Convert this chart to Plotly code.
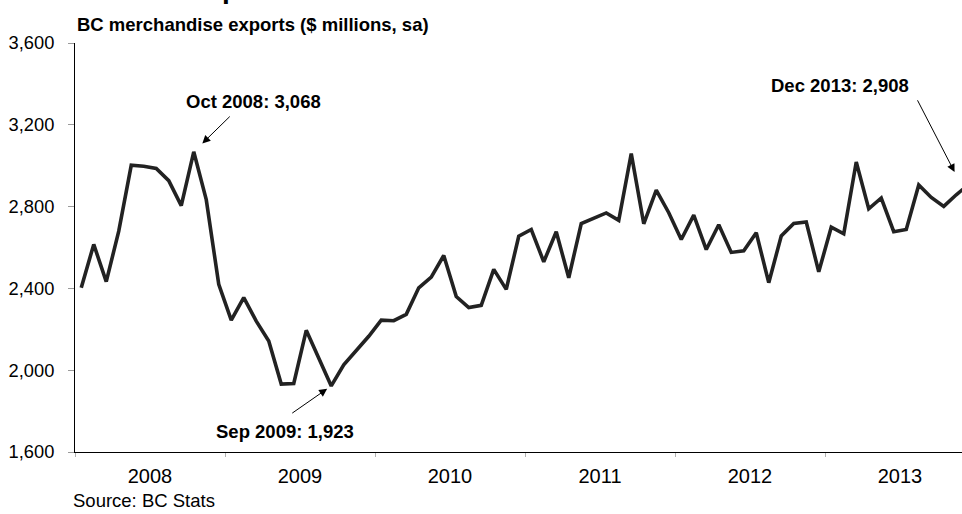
import numpy as np
import plotly.graph_objects as go

# BC merchandise exports, $ millions, seasonally adjusted (monthly, Jan 2008 - Dec 2013)
years = ["2008", "2009", "2010", "2011", "2012", "2013"]
exports_2008 = [2403, 2615, 2433, 2680, 3002, 2997, 2987, 2927, 2805, 3068, 2834, 2420]
exports_2009 = [2245, 2355, 2240, 2143, 1932, 1935, 2195, 2062, 1923, 2026, 2094, 2166]
exports_2010 = [2245, 2242, 2273, 2403, 2455, 2561, 2360, 2306, 2317, 2493, 2395, 2655]
exports_2011 = [2688, 2530, 2677, 2452, 2717, 2745, 2769, 2733, 3059, 2716, 2880, 2770]
exports_2012 = [2639, 2758, 2590, 2711, 2576, 2584, 2672, 2428, 2656, 2717, 2725, 2481]
exports_2013 = [2699, 2667, 3018, 2789, 2842, 2677, 2688, 2906, 2845, 2801, 2858, 2908]
y_ticks = [1600, 2000, 2400, 2800, 3200, 3600]

# Callouts: (month index, label)
callouts = [(9, "Oct 2008: 3,068"), (20, "Sep 2009: 1,923"), (71, "Dec 2013: 2,908")]

exports = exports_2008 + exports_2009 + exports_2010 + exports_2011 + exports_2012 + exports_2013
x = np.arange(len(exports))

FONT = "Arial, Liberation Sans, sans-serif"
W, H = 962, 514
ML, MR, MT, MB = 75, 0, 43, 62
PX_PER_YEAR = 150
plot_w = W - ML - MR
plot_h = H - MT - MB
x0 = -0.5
x1 = x0 + plot_w / PX_PER_YEAR * 12

year_centers = [i * 12 + 5.5 for i in range(len(years))]
year_edges = [i * 12 - 0.5 for i in range(len(years) + 1)]

fig = go.Figure()
fig.add_trace(go.Scatter(
    x=x, y=exports, mode="lines",
    line=dict(color="#222222", width=3.6),
    hoverinfo="y", showlegend=False,
))

def px_to_paper_y(py):
    return (H - MB - py) / plot_h

annotations = []
# chart headline (sits mostly above the visible page)
annotations.append(dict(
    xref="paper", yref="paper", x=(10 - ML) / plot_w, y=px_to_paper_y(-12),
    xanchor="left", yanchor="middle", showarrow=False,
    text="<b>Merchandise exports</b>", font=dict(family=FONT, size=28, color="#000"),
))
# series description
annotations.append(dict(
    xref="paper", yref="paper", x=0, y=px_to_paper_y(24.5),
    xanchor="left", yanchor="middle", showarrow=False,
    text="<b>BC merchandise exports ($ millions, sa)</b>",
    font=dict(family=FONT, size=18.5, color="#000"),
))
# source line
annotations.append(dict(
    xref="paper", yref="paper", x=(71 - ML) / plot_w, y=px_to_paper_y(500),
    xanchor="left", yanchor="middle", showarrow=False,
    text="Source: BC Stats", font=dict(family=FONT, size=18.5, color="#000"),
))

# callout label positions (text centre, in axis units) and arrow tails (pixel offsets)
label_pos = {9: (13.78, 3315), 20: (16.26, 1700), 71: (60.7, 3391)}
arrow_tail = {9: (37.5, -36.7, 12), 20: (-40.5, 28.2, 5), 71: (-52, -85.7, 14)}

for idx, label in callouts:
    lx, ly = label_pos[idx]
    annotations.append(dict(
        xref="x", yref="y", x=lx, y=ly, showarrow=False,
        text="<b>" + label + "</b>", font=dict(family=FONT, size=18.5, color="#000"),
        xanchor="center", yanchor="middle",
    ))
    ax, ay, so = arrow_tail[idx]
    if x0 <= idx <= x1:
        ref = dict(xref="x", x=idx)
    else:
        ref = dict(xref="paper", x=(idx - x0) / (x1 - x0))
    annotations.append(dict(
        **ref, yref="y", y=exports[idx], text="", showarrow=True,
        ax=ax, ay=ay, axref="pixel", ayref="pixel",
        arrowhead=2, arrowsize=1.6, arrowwidth=1, arrowcolor="#000", standoff=so,
    ))

fig.update_layout(
    width=W, height=H,
    margin=dict(l=ML, r=MR, t=MT, b=MB, pad=0),
    paper_bgcolor="white", plot_bgcolor="white",
    font=dict(family=FONT, color="#000"),
    annotations=annotations,
    xaxis=dict(
        range=[x0, x1], showgrid=False, zeroline=False,
        showline=True, linecolor="#000", linewidth=1,
        tickmode="array", tickvals=year_centers, ticktext=years,
        ticks="", tickfont=dict(family=FONT, size=20, color="#000"),
        ticklabelstandoff=6,
        minor=dict(tickmode="array", tickvals=year_edges, ticks="outside",
                   ticklen=4, tickwidth=1, tickcolor="#b0b0b0", showgrid=False),
    ),
    yaxis=dict(
        range=[1600, 3600], showgrid=False, zeroline=False,
        showline=True, linecolor="#000", linewidth=1,
        tickmode="array", tickvals=y_ticks, tickformat=",",
        ticks="outside", ticklen=6, tickwidth=1, tickcolor="#9a9a9a",
        tickfont=dict(family=FONT, size=18.3, color="#000"),
        ticklabelstandoff=10,
    ),
)

fig.write_html("out.html")
